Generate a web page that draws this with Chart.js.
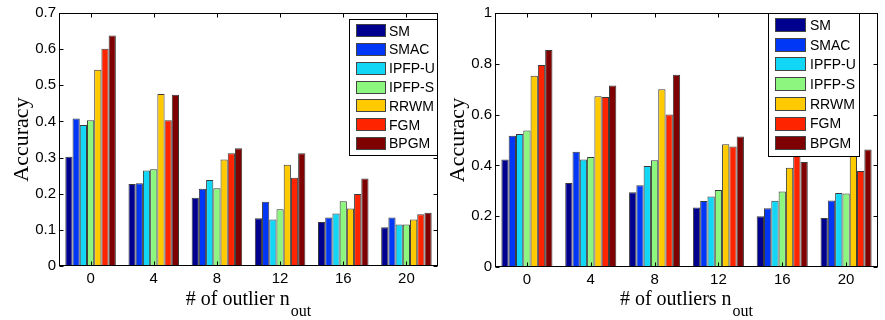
<!DOCTYPE html>
<html>
<head>
<meta charset="utf-8">
<script src="https://cdn.jsdelivr.net/npm/chart.js@4.4.1/dist/chart.umd.min.js"></script>
<style>
body{margin:0;background:#fff;}
#left{position:absolute;left:0;top:0;}
#right{position:absolute;left:445px;top:0;}
</style>
</head>
<body>
<canvas id="left" width="445" height="320"></canvas>
<canvas id="right" width="440" height="320"></canvas>
<script>
// categories and series names
const outliers = ["0", "4", "8", "12", "16", "20"];
const methods = ["SM", "SMAC", "IPFP-U", "IPFP-S", "RRWM", "FGM", "BPGM"];
const barColors = ["#00008f", "#0036f5", "#12d6f6", "#8cf67e", "#ffca00", "#ff2400", "#7e0000"];

// left panel - accuracy per method
const leftSM    = [0.302, 0.227, 0.189, 0.132, 0.122, 0.107];
const leftSMAC  = [0.408, 0.229, 0.214, 0.178, 0.134, 0.134];
const leftIPFPU = [0.390, 0.264, 0.238, 0.129, 0.145, 0.115];
const leftIPFPS = [0.403, 0.268, 0.215, 0.157, 0.179, 0.115];
const leftRRWM  = [0.543, 0.476, 0.295, 0.280, 0.159, 0.129];
const leftFGM   = [0.601, 0.403, 0.312, 0.244, 0.199, 0.143];
const leftBPGM  = [0.638, 0.474, 0.326, 0.312, 0.242, 0.147];

// right panel - accuracy per method
const rightSM    = [0.423, 0.331, 0.294, 0.234, 0.200, 0.193];
const rightSMAC  = [0.517, 0.454, 0.322, 0.260, 0.231, 0.262];
const rightIPFPU = [0.524, 0.423, 0.398, 0.278, 0.261, 0.291];
const rightIPFPS = [0.537, 0.433, 0.420, 0.303, 0.297, 0.289];
const rightRRWM  = [0.753, 0.672, 0.700, 0.483, 0.391, 0.440];
const rightFGM   = [0.795, 0.669, 0.600, 0.474, 0.460, 0.378];
const rightBPGM  = [0.854, 0.715, 0.757, 0.514, 0.413, 0.463];

const leftRows = [leftSM, leftSMAC, leftIPFPU, leftIPFPS, leftRRWM, leftFGM, leftBPGM];
const rightRows = [rightSM, rightSMAC, rightIPFPU, rightIPFPS, rightRRWM, rightFGM, rightBPGM];

// matlab style box, inward ticks, legend and titles
const matlabFrame = {
  id: "matlabFrame",
  afterDraw(chart, args, o) {
    const ctx = chart.ctx;
    const a = chart.chartArea;
    const xs = chart.scales.x, ys = chart.scales.y;
    ctx.save();
    ctx.strokeStyle = "#000";
    ctx.lineWidth = 1;

    const L = Math.round(a.left) + 0.5, R = Math.round(a.right) - 0.5;
    const T = Math.round(a.top) + 0.5, B = Math.round(a.bottom) - 0.5;
    ctx.beginPath();
    ys.ticks.forEach(t => {
      const py = Math.round(ys.getPixelForValue(t.value)) + 0.5;
      ctx.moveTo(L, py); ctx.lineTo(L + 4, py);
      ctx.moveTo(R, py); ctx.lineTo(R - 4, py);
    });
    xs.ticks.forEach((t, i) => {
      const px = Math.round(xs.getPixelForTick(i)) + 0.5;
      ctx.moveTo(px, B); ctx.lineTo(px, B - 4);
      ctx.moveTo(px, T); ctx.lineTo(px, T + 4);
    });
    ctx.stroke();
    ctx.strokeRect(L, T, R - L, B - T);

    // legend box
    const lg = o.legend;
    ctx.fillStyle = "#fff";
    ctx.fillRect(lg.x, lg.y, lg.w, lg.h);
    ctx.strokeRect(lg.x + 0.5, lg.y + 0.5, lg.w, lg.h);
    ctx.font = "14px 'Liberation Sans', Arial, sans-serif";
    ctx.textBaseline = "middle";
    ctx.textAlign = "left";
    chart.data.datasets.forEach((ds, i) => {
      const cy = lg.first + i * lg.step;
      ctx.fillStyle = ds.backgroundColor;
      ctx.fillRect(lg.sx, Math.round(cy - lg.sh / 2), lg.sw, lg.sh);
      ctx.strokeStyle = "#444";
      ctx.strokeRect(lg.sx + 0.5, Math.round(cy - lg.sh / 2) + 0.5, lg.sw - 1, lg.sh - 1);
      ctx.fillStyle = "#000";
      ctx.fillText(ds.label, lg.tx, cy + 1);
    });

    // x title with subscript
    ctx.fillStyle = "#000";
    ctx.textBaseline = "alphabetic";
    const mainFont = "20px 'Liberation Serif', 'Times New Roman', serif";
    const subFont = "16px 'Liberation Serif', 'Times New Roman', serif";
    ctx.font = mainFont;
    const w1 = ctx.measureText(o.xTitle).width;
    ctx.font = subFont;
    const w2 = ctx.measureText(o.xSub).width;
    const x0 = (a.left + a.right) / 2 - (w1 + 1 + w2) / 2;
    ctx.font = mainFont;
    ctx.fillText(o.xTitle, x0, o.xBase);
    ctx.font = subFont;
    ctx.fillText(o.xSub, x0 + w1 + 1, o.xBase + 11);

    // y title
    ctx.font = "22px 'Liberation Serif', 'Times New Roman', serif";
    ctx.translate(o.yBase, (a.top + a.bottom) / 2);
    ctx.rotate(-Math.PI / 2);
    ctx.textAlign = "center";
    ctx.fillText("Accuracy", 0, 0);
    ctx.restore();
  }
};

function makeChart(id, rows, opt) {
  const datasets = rows.map((vals, i) => ({
    label: methods[i],
    data: vals,
    backgroundColor: barColors[i],
    borderColor: "#3a3a3a",
    borderWidth: 1,
    categoryPercentage: 0.8,
    barPercentage: 1.0
  }));

  return new Chart(document.getElementById(id), {
    type: "bar",
    data: { labels: outliers, datasets: datasets },
    options: {
      responsive: false,
      animation: false,
      layout: { padding: { top: 13, right: opt.padRight, bottom: 0, left: 0 } },
      plugins: {
        legend: { display: false },
        tooltip: { enabled: false },
        matlabFrame: opt.frame
      },
      scales: {
        x: {
          grid: { display: false, drawTicks: false },
          border: { display: false },
          ticks: {
            color: "#000",
            padding: 4,
            font: { family: "'Liberation Sans', Arial, sans-serif", size: 15 }
          },
          afterFit: s => { s.height = opt.xHeight; }
        },
        y: {
          min: 0,
          max: opt.yMax,
          grid: { display: false, drawTicks: false },
          border: { display: false },
          ticks: {
            stepSize: opt.step,
            color: "#000",
            padding: 3,
            font: { family: "'Liberation Sans', Arial, sans-serif", size: 15 },
            callback: v => String(+v.toFixed(1))
          },
          afterFit: s => { s.width = opt.yWidth; }
        }
      }
    },
    plugins: [matlabFrame]
  });
}

makeChart("left", leftRows, {
  yMax: 0.7, step: 0.1, padRight: 7, xHeight: 54, yWidth: 59,
  frame: {
    legend: { x: 349, y: 19, w: 88, h: 136, sx: 356, sw: 30, sh: 13, tx: 389, first: 30.7, step: 18.8 },
    xTitle: "# of outlier n", xSub: "out", xBase: 305, yBase: 28
  }
});

makeChart("right", rightRows, {
  yMax: 1, step: 0.2, padRight: 7, xHeight: 53, yWidth: 50,
  frame: {
    legend: { x: 323, y: 13, w: 91, h: 143, sx: 330, sw: 31, sh: 14, tx: 365, first: 25, step: 19.7 },
    xTitle: "# of outliers n", xSub: "out", xBase: 305, yBase: 19
  }
});
</script>
</body>
</html>
